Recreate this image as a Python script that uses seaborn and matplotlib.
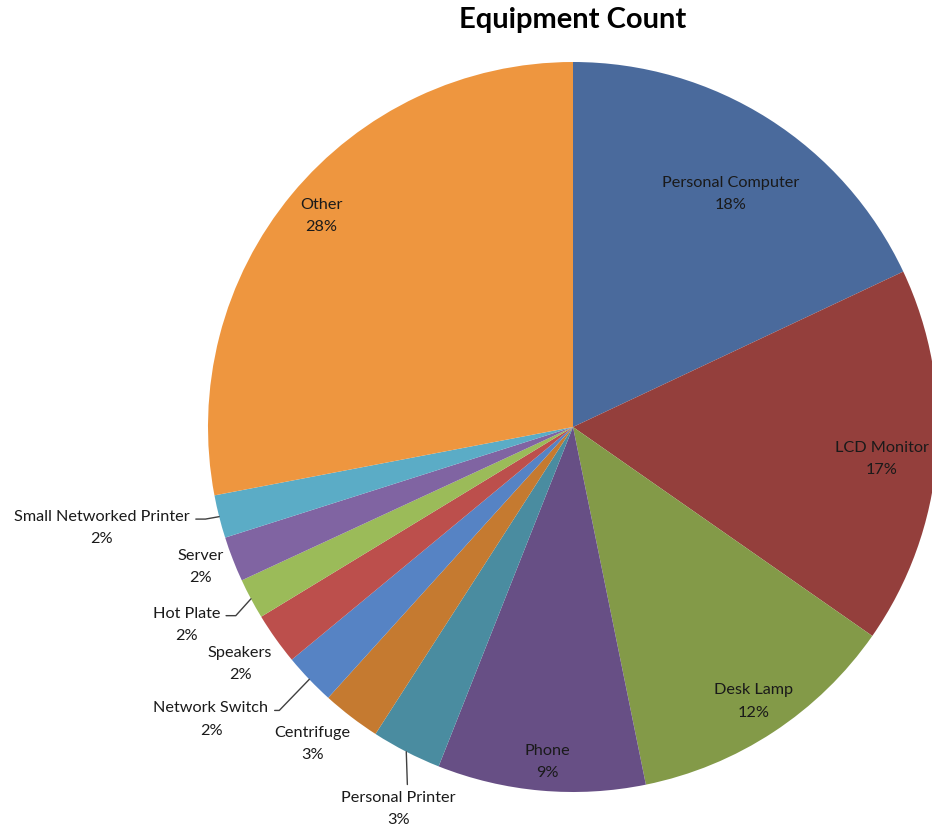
import numpy as np
import matplotlib
matplotlib.use("Agg")
import matplotlib.pyplot as plt
import seaborn as sns

sns.set_theme(style="white")
plt.rcParams["font.family"] = ["Lato", "DejaVu Sans"]

# data (percent share of equipment count)
categories = ["Personal Computer", "LCD Monitor", "Desk Lamp", "Phone",
              "Personal Printer", "Centrifuge", "Network Switch", "Speakers",
              "Hot Plate", "Server", "Small Networked Printer", "Other"]
shares = [18.0, 16.7, 12.1, 9.2, 3.1, 2.6, 2.3, 2.3, 1.8, 2.0, 1.9, 28.0]

colors = ["#4A6A9C", "#943F3C", "#839A48", "#674F85", "#4A8CA0", "#C57A30",
          "#5683C4", "#BC4F4C", "#9BBB59", "#8064A2", "#5BACC6", "#EE963F"]

# label placement: radius (in pie radii) and angular nudge (deg, clockwise)
label_r = [0.77, 0.85, 0.90, 0.92, 1.15, 1.125, 1.275, 1.12, 1.19, 1.09, 1.32, 0.90]
label_nudge = [1.7, 1.0, 0.0, -0.6, -2.6, 2.0, 4.8, 0.0, 1.0, 0.6, 2.1, 0.4]
# leader lines: (relpos on text box, angle of the diagonal) or None
leaders = [None, None, None, None, ((0.58, 1.0), None), None,
           ((1.0, 0.75), 46), None, ((1.0, 0.75), 48), None, ((1.0, 0.75), 10), None]

fig = plt.figure(figsize=(9.32, 8.25), dpi=100)
ax = fig.add_axes([208 / 932, 33 / 825, 730 / 932, 730 / 825])

wedges, _ = ax.pie(shares, colors=colors, startangle=90, counterclock=False,
                   radius=1.0, wedgeprops=dict(linewidth=0, antialiased=True))
for w in wedges:
    w.set_clip_on(False)

total = sum(shares)
start = 0.0
for i, (name, val) in enumerate(zip(categories, shares)):
    span = val / total * 360.0
    mid = start + span / 2.0
    start += span
    theta = np.deg2rad(90.0 - mid)
    lab = np.deg2rad(90.0 - (mid + label_nudge[i]))
    tx, ty = label_r[i] * np.cos(lab), label_r[i] * np.sin(lab)
    txt = f"{name}\n{val / total * 100:.0f}%"
    if leaders[i] is None:
        ax.text(tx, ty, txt, ha="center", va="center", fontsize=11.7,
                color="#1a1a1a", linespacing=1.75)
    else:
        relpos, angB = leaders[i]
        ex, ey = np.cos(theta), np.sin(theta)
        if angB is None:
            cs = "arc3"
        else:
            cs = f"angle,angleA=0,angleB={angB},rad=0"
        ax.annotate(txt, xy=(ex * 1.0, ey * 1.0), xytext=(tx, ty),
                    ha="center", va="center", fontsize=11.7, color="#1a1a1a",
                    linespacing=1.75, annotation_clip=False,
                    arrowprops=dict(arrowstyle="-", color="#404040", lw=1.0,
                                    relpos=relpos, connectionstyle=cs,
                                    shrinkA=2, shrinkB=0))

ax.set_xlim(-1, 1)
ax.set_ylim(-1, 1)
ax.set_aspect("equal")
ax.axis("off")

fig.text(573 / 932, 1 - 20 / 825, "Equipment Count", ha="center", va="center",
         fontsize=21, fontweight="bold", color="black")

fig.savefig("out.png", dpi=100, facecolor="white")
